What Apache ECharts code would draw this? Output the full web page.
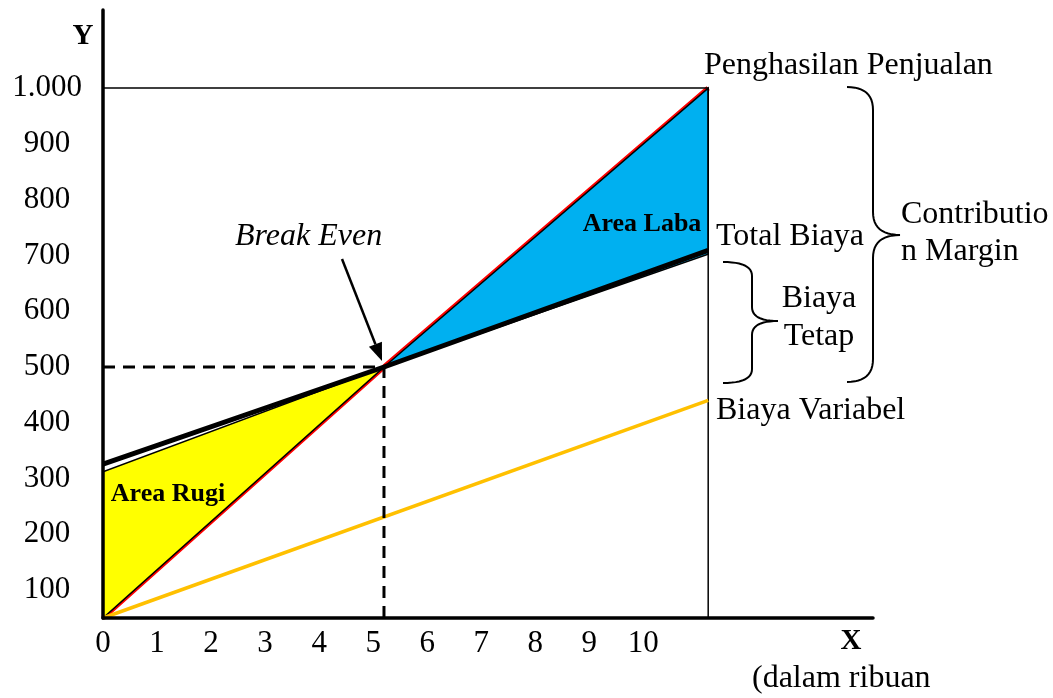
<!DOCTYPE html>
<html>
<head>
<meta charset="utf-8">
<script src="https://cdn.jsdelivr.net/npm/echarts@6/dist/echarts.min.js"></script>
<style>
  html, body { margin: 0; padding: 0; background: #ffffff; }
  #chart { width: 1053px; height: 698px; }
</style>
</head>
<body>
<div id="chart"></div>
<script>
// Break-even chart: volume (thousands of units) against value.
const xTicks = [0, 1, 2, 3, 4, 5, 6, 7, 8, 9, 10];
const yTicks = [100, 200, 300, 400, 500, 600, 700, 800, 900, 1000];
const yTickLabels = ['100', '200', '300', '400', '500', '600', '700', '800', '900', '1.000'];

const revenue = [[0, 50], [5.2, 500], [11.2, 1000]];
const totalCost = [[0, 326], [5.2, 500], [11.2, 709]];
const variableCost = [[0, 50], [11.2, 440]];
const breakEven = [5.2, 500];
const volumeEnd = 11.2;
const revenueTop = 1000;
const lossArea = [[0, 50], [0, 312], [5.2, 500]];
const profitArea = [[5.2, 500], [11.2, 1000], [11.2, 702]];

const Y_MIN = 50;
const SERIF = "'Times New Roman', 'Liberation Serif', serif";

const areas = [
  { pts: lossArea, color: '#ffff00' },
  { pts: profitArea, color: '#00b0f0' }
];

// Guides: revenue ceiling with closing vertical, and the break-even drop lines
const ceilingGuide = [[0, revenueTop], [volumeEnd, revenueTop], [volumeEnd, Y_MIN]];
const breakEvenGuide = [[0, breakEven[1]], breakEven, [breakEven[0], Y_MIN]];

// Curly brace as a sampled polyline (opening on the left, point to the right)
function brace(x0, y0, y1, xv, xt, ym, r) {
  const pts = [];
  const quad = (p0, c, p1) => {
    for (let i = 0; i <= 12; i++) {
      const t = i / 12, u = 1 - t;
      pts.push([u * u * p0[0] + 2 * u * t * c[0] + t * t * p1[0],
                u * u * p0[1] + 2 * u * t * c[1] + t * t * p1[1]]);
    }
  };
  quad([x0, y0], [xv, y0], [xv, y0 + r]);
  pts.push([xv, ym - r]);
  quad([xv, ym - r], [xv, ym], [xt, ym]);
  quad([xt, ym], [xv, ym], [xv, ym + r]);
  pts.push([xv, y1 - r]);
  quad([xv, y1 - r], [xv, y1], [x0, y1]);
  return pts;
}

function text(str, x, y, opts) {
  return {
    type: 'text', x: x, y: y, z: 100,
    style: Object.assign({
      text: str, fill: '#000', fontFamily: SERIF, fontSize: 32,
      align: 'left', verticalAlign: 'middle'
    }, opts || {})
  };
}

function arrow(tail, tip, len, half) {
  const dx = tip[0] - tail[0], dy = tip[1] - tail[1];
  const L = Math.hypot(dx, dy), ux = dx / L, uy = dy / L;
  const bx = tip[0] - ux * len, by = tip[1] - uy * len;
  return [
    { type: 'line', z: 100, shape: { x1: tail[0], y1: tail[1], x2: bx, y2: by },
      style: { stroke: '#000', lineWidth: 2.5 } },
    { type: 'polygon', z: 100,
      shape: { points: [tip, [bx - uy * half, by + ux * half], [bx + uy * half, by - ux * half]] },
      style: { fill: '#000' } }
  ];
}

const chart = echarts.init(document.getElementById('chart'), null, { renderer: 'canvas' });

chart.setOption({
  animation: false,
  backgroundColor: '#ffffff',
  grid: { left: 103, right: 180, top: 10, bottom: 80 },
  xAxis: {
    type: 'value', min: 0, max: 14.25, z: 10,
    axisLine: { lineStyle: { color: '#000', width: 3.5 } },
    axisTick: { show: false },
    splitLine: { show: false },
    axisLabel: {
      customValues: xTicks, color: '#000', fontSize: 31, fontFamily: SERIF, margin: 10
    }
  },
  yAxis: {
    type: 'value', min: Y_MIN, max: 1140, z: 10,
    axisLine: { lineStyle: { color: '#000', width: 3.5 } },
    axisTick: { show: false },
    splitLine: { show: false },
    axisLabel: {
      customValues: yTicks, color: '#000', fontSize: 31, fontFamily: SERIF,
      align: 'center', margin: 56,
      formatter: v => yTickLabels[yTicks.indexOf(v)]
    }
  },
  series: [
    {
      name: 'Penghasilan Penjualan', type: 'line', data: revenue, symbol: 'none', z: 2,
      lineStyle: { color: '#ff0000', width: 5 }
    },
    {
      name: 'Area', type: 'custom', coordinateSystem: 'cartesian2d', z: 3,
      data: areas.map(a => a.pts[0]),
      renderItem: (params, api) => {
        const a = areas[params.dataIndex];
        return {
          type: 'polygon',
          shape: { points: a.pts.map(p => api.coord(p)) },
          style: { fill: a.color, stroke: '#000', lineWidth: 1.5 }
        };
      }
    },
    {
      name: 'Total Biaya', type: 'line', data: totalCost, symbol: 'none', z: 4,
      lineStyle: { color: '#000', width: 5 }
    },
    {
      name: 'Biaya Variabel', type: 'line', data: variableCost, symbol: 'none', z: 5,
      lineStyle: { color: '#ffc000', width: 3.5 }
    },
    {
      name: 'Batas', type: 'line', data: ceilingGuide, symbol: 'none', z: 4,
      lineStyle: { color: '#000', width: 1.5 }
    },
    {
      name: 'Break Even', type: 'line', data: breakEvenGuide, symbol: 'none', z: 5,
      lineStyle: { color: '#000', width: 3, type: [12, 8] }
    }
  ],
  graphic: {
    elements: [
      text('Y', 83, 37, { fontWeight: 'bold', fontSize: 29, align: 'center' }),
      text('X', 851, 642, { fontWeight: 'bold', fontSize: 29, align: 'center' }),
      text('(dalam ribuan', 752, 679),
      text('Penghasilan Penjualan', 704, 66),
      text('Total Biaya', 716, 237),
      text('Biaya Variabel', 716, 411),
      text('Biaya', 819, 299, { align: 'center' }),
      text('Tetap', 819, 337, { align: 'center' }),
      text('Contributio', 901, 215),
      text('n Margin', 901, 252),
      text('Break Even', 235, 237, { fontStyle: 'italic' }),
      text('Area Laba', 642, 224, { fontWeight: 'bold', fontSize: 26, align: 'center' }),
      text('Area Rugi', 168, 494, { fontWeight: 'bold', fontSize: 26, align: 'center' }),
      { type: 'polyline', z: 100, shape: { points: brace(847, 87, 382, 873, 900, 235, 23) },
        style: { stroke: '#000', lineWidth: 2, fill: null } },
      { type: 'polyline', z: 100, shape: { points: brace(723, 262, 383, 752, 778, 321, 14) },
        style: { stroke: '#000', lineWidth: 2, fill: null } }
    ].concat(arrow([342, 259], [382, 361], 18, 7))
  }
});
</script>
</body>
</html>
